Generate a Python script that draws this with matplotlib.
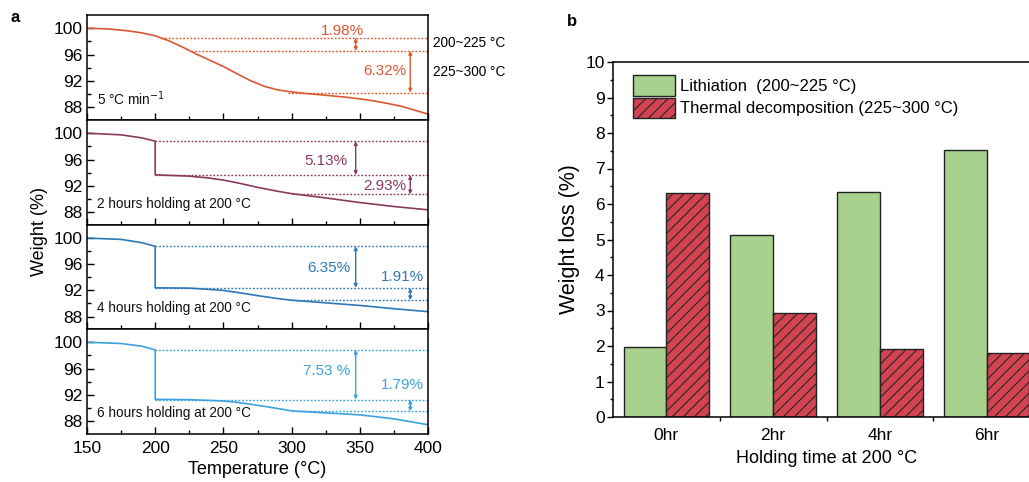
import numpy as np
import matplotlib
matplotlib.use("Agg")
import matplotlib.pyplot as plt
from matplotlib.ticker import MultipleLocator, FixedLocator

plt.rcParams['font.family'] = ['Liberation Sans', 'DejaVu Sans']
plt.rcParams['hatch.linewidth'] = 0.75
plt.rcParams['axes.linewidth'] = 1.1

# ---------------- data ----------------
hold_labels = ["0hr", "2hr", "4hr", "6hr"]
lithiation = [1.98, 5.13, 6.35, 7.53]        # 200~225 °C
decomposition = [6.32, 2.93, 1.91, 1.79]     # 225~300 °C
onset_weight = [98.55, 98.80, 98.75, 98.85]  # weight where lithiation loss starts

panel_texts = ["5 °C min$^{-1}$", "2 hours holding at 200 °C",
               "4 hours holding at 200 °C", "6 hours holding at 200 °C"]
panel_colors = ["#D9582F", "#8A3A5C", "#2F78B8", "#3BA2DE"]

temp_0hr = [150, 165, 180, 190, 200, 210, 220, 230, 240, 250, 260, 270, 280, 290,
            300, 310, 325, 340, 350, 360, 370, 380, 390, 400]
wt_0hr = [100.0, 99.9, 99.6, 99.3, 98.85, 98.1, 97.15, 96.1, 95.15, 94.2, 93.1, 92.05,
          91.2, 90.65, 90.35, 90.12, 89.85, 89.55, 89.3, 89.0, 88.62, 88.2, 87.6, 87.0]

temp_2hr = [150, 175, 190, 200, 200, 225, 240, 250, 260, 275, 290, 300, 325, 350, 375, 400]
wt_2hr = [100.0, 99.75, 99.3, 98.8, 93.7, 93.5, 93.2, 92.9, 92.5, 91.8, 91.2, 90.85,
          90.2, 89.5, 88.9, 88.4]

temp_4hr = [150, 175, 190, 200, 200, 225, 240, 250, 260, 275, 290, 300, 325, 350, 375, 400]
wt_4hr = [100.0, 99.8, 99.3, 98.75, 92.4, 92.35, 92.15, 92.0, 91.7, 91.2, 90.75, 90.5,
          90.1, 89.7, 89.2, 88.75]

temp_6hr = [150, 175, 190, 200, 200, 225, 250, 260, 275, 290, 300, 325, 350, 375, 400]
wt_6hr = [100.0, 99.8, 99.4, 98.85, 91.35, 91.3, 91.1, 90.9, 90.45, 89.95, 89.6,
          89.3, 89.0, 88.4, 87.5]

temps = [temp_0hr, temp_2hr, temp_4hr, temp_6hr]
weights = [wt_0hr, wt_2hr, wt_4hr, wt_6hr]

# where the dotted guide lines begin (temperatures)
guide_start = [[204, 226, 297], [200, 200, 300], [200, 200, 300], [200, 200, 300]]
arrow_T = [347, 387]
# label positions: (x, y, ha) for lithiation and decomposition labels
lab_lith = [(337, 99.65, 'center'), (341, 95.85, 'right'), (343, 95.35, 'right'), (343, 95.6, 'right')]
lab_dec = [(384, 93.45, 'right'), (384, 92.0, 'right'), (381, 94.1, 'center'), (381, 93.5, 'center')]
lith_fmt = ["{:.2f}%", "{:.2f}%", "{:.2f}%", "{:.2f} %"]

W, H = 1029, 482
fig = plt.figure(figsize=(W / 100, H / 100), dpi=100)

def fx(px):
    return px / W

def fy(py):
    return 1 - py / H

tops = [15, 120, 225, 329]
bots = [120, 225, 329, 434]
axes = []
for i in range(4):
    ax = fig.add_axes([fx(87), fy(bots[i]), fx(428 - 87), (bots[i] - tops[i]) / H])
    axes.append(ax)
    c = panel_colors[i]
    ax.plot(temps[i], weights[i], color=c, lw=1.2)
    ax.set_xlim(150, 400)
    ax.set_ylim(86.1, 102)
    ax.yaxis.set_major_locator(FixedLocator([88, 92, 96, 100]))
    ax.yaxis.set_minor_locator(FixedLocator([90, 94, 98]))
    ax.xaxis.set_major_locator(MultipleLocator(50))
    ax.xaxis.set_minor_locator(MultipleLocator(25))
    ax.tick_params(which='major', direction='in', length=5, width=1, labelsize=12.5, pad=3)
    ax.tick_params(which='minor', direction='in', length=3, width=1)
    if i < 3:
        ax.tick_params(axis='x', labelbottom=False)
    # levels
    l1 = onset_weight[i]
    l2 = l1 - lithiation[i]
    l3 = l2 - decomposition[i]
    for lvl, xs in zip([l1, l2, l3], guide_start[i]):
        ax.plot([xs, 400], [lvl, lvl], color=c, lw=1.0, ls=(0, (1.3, 1.3)))
    for (ya, yb), xa in zip([(l1, l2), (l2, l3)], arrow_T):
        ax.annotate("", xy=(xa, yb), xytext=(xa, ya),
                    arrowprops=dict(arrowstyle='<|-|>', color=c, lw=1.0,
                                    mutation_scale=5, shrinkA=0, shrinkB=0))
    x, y, ha = lab_lith[i]
    ax.text(x, y, lith_fmt[i].format(lithiation[i]), color=c, fontsize=11, ha=ha, va='center')
    x, y, ha = lab_dec[i]
    ax.text(x, y, "{:.2f}%".format(decomposition[i]), color=c, fontsize=11, ha=ha, va='center')
    ax.text(0.03, 0.2, panel_texts[i], transform=ax.transAxes, fontsize=9.8,
            ha='left', va='center', color='#111111')

axes[3].set_xticks([150, 200, 250, 300, 350, 400])
axes[3].tick_params(axis='x', labelsize=12.5, pad=5)

fig.text(fx(433), fy(43), "200~225 °C", fontsize=9.8, ha='left', va='center')
fig.text(fx(433), fy(72), "225~300 °C", fontsize=9.8, ha='left', va='center')
fig.text(fx(40), fy(232), "Weight (%)", fontsize=13, rotation=90, ha='center', va='center')
fig.text(fx(257), fy(470), "Temperature (°C)", fontsize=13, ha='center', va='center')
fig.text(fx(15), fy(18), "a", fontsize=12, fontweight='bold', ha='center', va='center')
fig.text(fx(572), fy(22), "b", fontsize=12, fontweight='bold', ha='center', va='center')

# ---------------- panel b ----------------
axb = fig.add_axes([fx(613), fy(417), fx(1040 - 613), (417 - 62) / H])
xpos = np.arange(len(hold_labels))
bw = 0.4
axb.bar(xpos - bw / 2, lithiation, width=bw, color='#A9D18E', edgecolor='#222222',
        lw=1.0, label='Lithiation  (200~225 °C)')
axb.bar(xpos + bw / 2, decomposition, width=bw, color='#D24452', edgecolor='#222222',
        lw=1.0, hatch='///', label='Thermal decomposition (225~300 °C)')
axb.set_xlim(-0.5, 3.5)
axb.set_ylim(0, 10)
axb.yaxis.set_major_locator(MultipleLocator(1))
axb.yaxis.set_minor_locator(MultipleLocator(0.5))
axb.set_xticks(xpos)
axb.set_xticklabels(hold_labels)
axb.xaxis.set_minor_locator(FixedLocator([0.5, 1.5, 2.5]))
axb.tick_params(axis='y', which='major', direction='out', length=4, width=1, labelsize=12.5, pad=2)
axb.tick_params(axis='y', which='minor', direction='out', length=2.5, width=1)
axb.tick_params(axis='x', which='major', length=0, labelsize=12.5, pad=8)
axb.tick_params(axis='x', which='minor', direction='out', length=3, width=1)
axb.set_ylabel("Weight loss (%)", fontsize=15.5, labelpad=4)
axb.set_xlabel("Holding time at 200 °C", fontsize=13, labelpad=5)
leg = axb.legend(loc='upper left', bbox_to_anchor=(0.047, 0.962), frameon=False,
                 fontsize=12, handlelength=2.5, handleheight=1.5, handletextpad=0.3,
                 labelspacing=0.12, borderaxespad=0, borderpad=0)

fig.savefig("out.png", dpi=100)
